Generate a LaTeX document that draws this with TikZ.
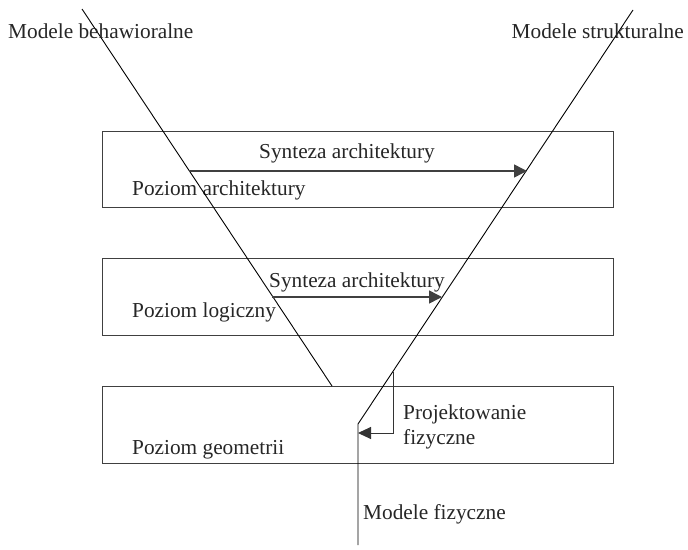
\documentclass[tikz,border=0pt]{standalone}
\usepackage{fontspec}
\setmainfont{Liberation Serif}
\usetikzlibrary{arrows.meta}
\begin{document}
\begin{tikzpicture}[x=1pt,y=-1pt,
  lbl/.style={anchor=base west,inner sep=0pt,font=\fontsize{21.3}{27}\selectfont,text=black!85},
  level/.style={draw=black!75,line width=1pt,minimum width=511pt,inner sep=0pt},
  vline/.style={draw=black,line width=0.9pt},
  synth/.style={draw=black!75,line width=1.5pt,-{Triangle[length=13pt,width=13pt]}},
  phys/.style={draw=black!80,line width=1pt,-{Triangle[length=13pt,width=12pt]}}]
  \useasboundingbox (0,0) rectangle (688,549);

  % abstraction levels
  \node[level,minimum height=76pt] (arch) at (357.5,169) {};
  \node[level,minimum height=77pt] (logic) at (357.5,296.5) {};
  \node[level,minimum height=77pt] (geom) at (357.5,424.5) {};

  % level names
  \node[lbl] (tarch) at (132,195) {Poziom architektury};
  \node[lbl] (tlogic) at (132,317) {Poziom logiczny};
  \node[lbl] (tgeom) at (132,454) {Poziom geometrii};

  % axis ends
  \coordinate (bTop) at (82,9);
  \coordinate (bEnd) at (332,386);
  \coordinate (sTop) at (633,10);
  \coordinate (sBend) at (358,424);
  \coordinate (fEnd) at (358,545);

  % axes of the Y chart
  \draw[vline] (bTop) -- (bEnd);
  \draw[vline] (sTop) -- (sBend) -- (fEnd);

  % axis labels
  \node[lbl] (beh) at (8,38) {Modele behawioralne};
  \node[lbl,anchor=base east] (str) at (684,38) {Modele strukturalne};
  \node[lbl] (fiz) at (363,519) {Modele fizyczne};

  % synthesis arrows between the axes
  \coordinate (s1a) at (189,171);
  \coordinate (s1b) at (527,171);
  \coordinate (s2a) at (272,297);
  \coordinate (s2b) at (442,297);
  \draw[synth] (s1a) -- (s1b);
  \draw[synth] (s2a) -- (s2b);
  \node[lbl] (syn1) at (259,158) {Synteza architektury};
  \node[lbl] (syn2) at (269,287) {Synteza architektury};

  % physical design step
  \coordinate (pStart) at (393,372);
  \coordinate (pEnd) at (358,433);
  \draw[phys] (pStart) |- (pEnd);
  \node[lbl] (proj) at (403,419) {Projektowanie};
  \node[lbl] (fizc) at (403,444) {fizyczne};
\end{tikzpicture}
\end{document}
